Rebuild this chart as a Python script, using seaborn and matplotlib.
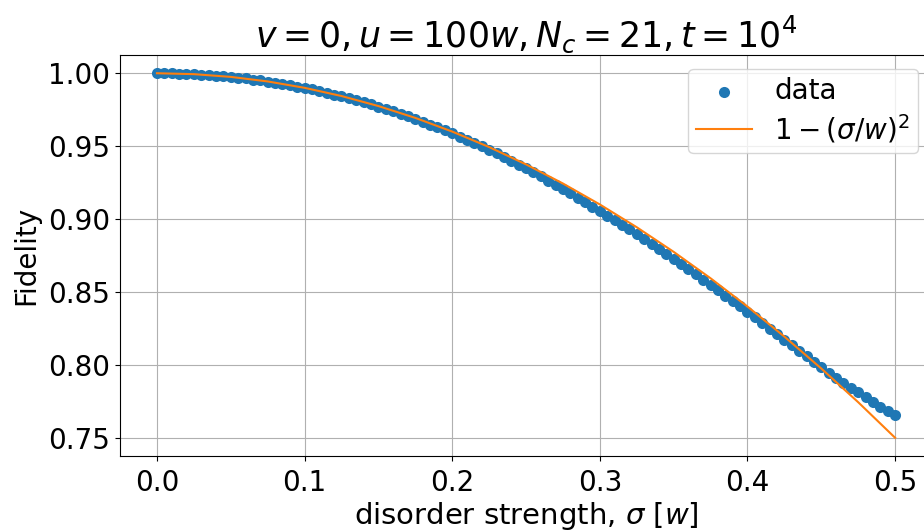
import matplotlib
matplotlib.use("Agg")
import matplotlib.pyplot as plt
import seaborn as sns
import numpy as np
import pandas as pd

# disorder strength sigma [w], 101 samples
sigma = np.round(np.arange(0, 101) * 0.005, 3)

# simulated fidelity
fidelity = [
    1.0000, 1.0000, 0.9999, 0.9998, 0.9996, 0.9994, 0.9991, 0.9988, 0.9984, 0.9980,
    0.9975, 0.9970, 0.9964, 0.9957, 0.9951, 0.9943, 0.9935, 0.9927, 0.9918, 0.9909,
    0.9899, 0.9889, 0.9878, 0.9866, 0.9854, 0.9842, 0.9829, 0.9815, 0.9801, 0.9786,
    0.9770, 0.9754, 0.9738, 0.9721, 0.9704, 0.9686, 0.9667, 0.9648, 0.9629, 0.9609,
    0.9587, 0.9566, 0.9544, 0.9521, 0.9498, 0.9474, 0.9450, 0.9425, 0.9400, 0.9374,
    0.9347, 0.9320, 0.9292, 0.9264, 0.9235, 0.9206, 0.9177, 0.9147, 0.9117, 0.9086,
    0.9055, 0.9024, 0.8993, 0.8961, 0.8929, 0.8896, 0.8863, 0.8830, 0.8796, 0.8762,
    0.8727, 0.8692, 0.8657, 0.8621, 0.8585, 0.8549, 0.8512, 0.8475, 0.8438, 0.8401,
    0.8363, 0.8325, 0.8287, 0.8249, 0.8211, 0.8173, 0.8135, 0.8097, 0.8059, 0.8021,
    0.7983, 0.7947, 0.7912, 0.7878, 0.7844, 0.7811, 0.7778, 0.7746, 0.7714, 0.7685,
    0.7655,
]

# reference curve 1 - (sigma/w)^2
ref_sigma = [0.0, 0.025, 0.05, 0.075, 0.1, 0.125, 0.15, 0.175, 0.2, 0.225, 0.25,
             0.275, 0.3, 0.325, 0.35, 0.375, 0.4, 0.425, 0.45, 0.475, 0.5]
ref_fid = [1.0, 0.99938, 0.9975, 0.99438, 0.99, 0.98438, 0.9775, 0.96938, 0.96,
           0.94938, 0.9375, 0.92438, 0.91, 0.89438, 0.8775, 0.85938, 0.84, 0.81938,
           0.7975, 0.77438, 0.75]

plt.rcParams["font.size"] = 20

fig = plt.figure(figsize=(9.24, 5.31), dpi=100)
ax = fig.add_axes([0.1299, 0.1412, 0.8788, 0.7552])

df = pd.DataFrame({"sigma": sigma, "fidelity": fidelity})
ref = pd.DataFrame({"sigma": ref_sigma, "fidelity": ref_fid})

sns.scatterplot(data=df, x="sigma", y="fidelity", ax=ax, s=64, linewidth=0,
                color="C0", label="data", zorder=3)
sns.lineplot(data=ref, x="sigma", y="fidelity", ax=ax, color="C1",
             linewidth=1.5, label=r"$1-(\sigma/w)^2$", zorder=4)

ax.set_xlim(-0.025, 0.525)
ax.set_ylim(0.7375, 1.0125)
ax.set_xticks([0.0, 0.1, 0.2, 0.3, 0.4, 0.5])
ax.set_yticks([0.75, 0.80, 0.85, 0.90, 0.95, 1.00])
ax.set_yticklabels(["0.75", "0.80", "0.85", "0.90", "0.95", "1.00"])
ax.tick_params(axis="x", pad=6)
ax.grid(True, color="#b0b0b0", linewidth=0.8)
ax.set_axisbelow(True)

ax.set_xlabel(r"disorder strength, $\sigma$ [$w$]", fontsize=21, labelpad=2)
ax.set_ylabel("Fidelity", labelpad=6)
ax.set_title(r"$v = 0, u = 100w, N_c = 21, t = 10^4$", fontsize=25, pad=5)
ax.legend(loc="upper right", labelspacing=0.25, borderpad=0.3)

fig.savefig("out.png", dpi=100)
